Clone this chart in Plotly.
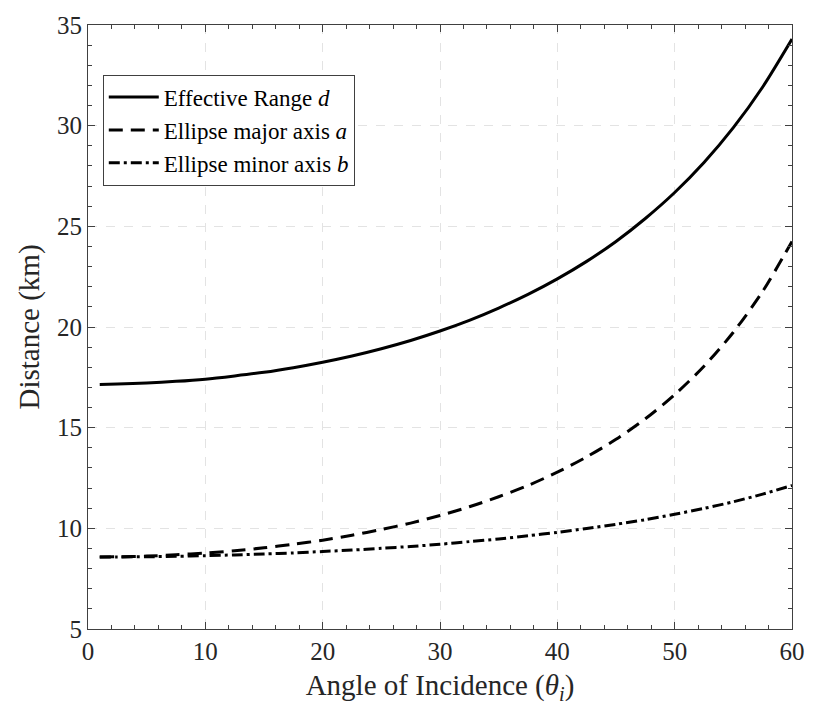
import plotly.graph_objects as go

theta = [1, 2.5, 5, 7.5, 10, 12.5, 15, 17.5, 20, 22.5, 25, 27.5, 30, 32.5, 35, 37.5,
         40, 42.5, 45, 47.5, 50, 52.5, 55, 57.5, 60]
eff_range_d = [17.15, 17.17, 17.22, 17.30, 17.41, 17.57, 17.75, 17.98, 18.25, 18.56, 18.92,
               19.33, 19.80, 20.33, 20.94, 21.62, 22.39, 23.26, 24.25, 25.39, 26.68, 28.17,
               29.90, 31.92, 34.30]
major_axis_a = [8.58, 8.59, 8.62, 8.69, 8.77, 8.89, 9.03, 9.21, 9.41, 9.66, 9.94, 10.26,
                10.64, 11.07, 11.57, 12.13, 12.79, 13.55, 14.42, 15.44, 16.64, 18.05, 19.74,
                21.77, 24.25]
minor_axis_b = [8.58, 8.58, 8.59, 8.61, 8.64, 8.68, 8.73, 8.78, 8.85, 8.92, 9.01, 9.10,
                9.21, 9.34, 9.47, 9.63, 9.80, 9.99, 10.20, 10.43, 10.70, 10.99, 11.32,
                11.70, 12.13]

x_ticks = [0, 10, 20, 30, 40, 50, 60]
y_ticks = [5, 10, 15, 20, 25, 30, 35]

FONT = "Liberation Serif"

fig = go.Figure()
fig.add_trace(go.Scatter(x=theta, y=eff_range_d, mode="lines", name="Effective Range <i>d</i>",
                         line=dict(color="black", width=3, shape="spline", smoothing=0.8)))
fig.add_trace(go.Scatter(x=theta, y=major_axis_a, mode="lines", name="Ellipse major axis <i>a</i>",
                         line=dict(color="black", width=3, dash="14px,8px", shape="spline", smoothing=0.8)))
fig.add_trace(go.Scatter(x=theta, y=minor_axis_b, mode="lines", name="Ellipse minor axis <i>b</i>",
                         line=dict(color="black", width=3, dash="11px,4px,3px,4px", shape="spline", smoothing=0.8)))

axis_common = dict(
    showline=True, linecolor="#404040", linewidth=1.2, mirror="ticks",
    ticks="inside", ticklen=7, tickcolor="#404040", tickwidth=1,
    showgrid=True, gridcolor="#e3e3e3", griddash="dash", gridwidth=1,
    zeroline=False,
    tickfont=dict(family=FONT, size=25, color="#262626"),
)

fig.update_xaxes(**axis_common, range=[0, 60], tickvals=x_ticks,
                 minor=dict(dtick=2, ticks="inside", ticklen=4, tickcolor="#404040", showgrid=False),
                 title=dict(text="Angle of Incidence (<i>θ<sub>i</sub></i>)",
                            font=dict(family=FONT, size=29, color="#262626"), standoff=10))
fig.update_yaxes(**axis_common, range=[5, 35], tickvals=y_ticks,
                 minor=dict(dtick=1, ticks="inside", ticklen=4, tickcolor="#404040", showgrid=False),
                 title=dict(text="Distance (km)",
                            font=dict(family=FONT, size=29, color="#262626"), standoff=8))

fig.update_layout(
    width=817, height=707,
    margin=dict(l=88, r=15, t=20, b=77),
    paper_bgcolor="white", plot_bgcolor="white",
    showlegend=True,
    legend=dict(x=0.021, y=0.918, xanchor="left", yanchor="top",
                bgcolor="white", bordercolor="#404040", borderwidth=1,
                font=dict(family=FONT, size=23, color="black"),
                tracegroupgap=0, itemwidth=50),
)

fig.write_html("out.html")
